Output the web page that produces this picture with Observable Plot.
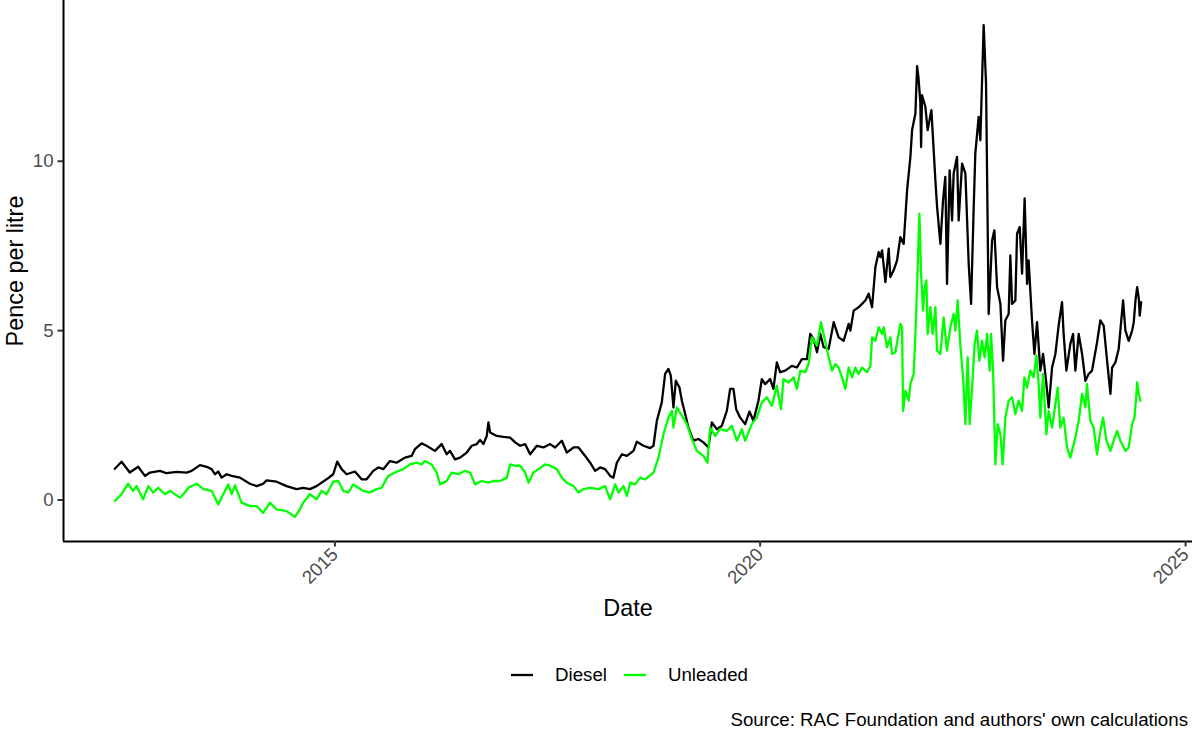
<!DOCTYPE html>
<html><head><meta charset="utf-8">
<script src="https://cdn.jsdelivr.net/npm/d3@7"></script>
<script src="https://cdn.jsdelivr.net/npm/@observablehq/plot@0.6"></script>
<style>
body{margin:0;background:#fff;font-family:"Liberation Sans",Arial,Helvetica,sans-serif;}
#wrap{position:relative;width:1194px;height:733px;overflow:hidden;}
#legend{position:absolute;left:511px;top:663px;height:24px;display:flex;align-items:center;font-size:18.7px;color:#000;white-space:nowrap;}
#legend .item{display:flex;align-items:center;}
#legend .item + .item{margin-left:17px;}
#legend svg{display:block;}
#legend span{margin-left:22px;}
#caption{position:absolute;right:6px;top:709px;font-size:18.7px;color:#000;white-space:nowrap;}
</style></head>
<body><div id="wrap"><div id="chart"></div>
<div id="legend"></div>
<div id="caption"></div></div>
<script>
// ---- data (decimal year, pence per litre) ----
const seriesNames = ["Diesel", "Unleaded"];
const seriesColors = ["#000000", "#00ff00"];
const xTickYears = [2015, 2020, 2025];
const yTicks = [0, 5, 10];
const xTitle = "Date";
const yTitle = "Pence per litre";
const captionText = "Source: RAC Foundation and authors' own calculations";

const diesel = [[2012.412,0.92],[2012.491,1.13],[2012.588,0.81],[2012.686,0.98],[2012.765,0.71],[2012.824,0.81],[2012.941,0.86],[2013.020,0.79],[2013.138,0.83],[2013.255,0.81],[2013.314,0.86],[2013.412,1.03],[2013.491,0.98],[2013.549,0.91],[2013.588,0.76],[2013.627,0.84],[2013.667,0.66],[2013.726,0.76],[2013.785,0.71],[2013.882,0.66],[2014.000,0.48],[2014.079,0.41],[2014.156,0.48],[2014.196,0.58],[2014.314,0.54],[2014.431,0.41],[2014.549,0.32],[2014.627,0.36],[2014.706,0.32],[2014.784,0.41],[2014.902,0.61],[2014.980,0.76],[2015.027,1.13],[2015.079,0.91],[2015.138,0.76],[2015.235,0.84],[2015.314,0.61],[2015.373,0.61],[2015.451,0.86],[2015.510,0.96],[2015.569,0.91],[2015.647,1.15],[2015.725,1.10],[2015.824,1.25],[2015.902,1.30],[2015.941,1.50],[2016.020,1.67],[2016.078,1.60],[2016.176,1.45],[2016.255,1.65],[2016.314,1.35],[2016.353,1.45],[2016.412,1.20],[2016.471,1.25],[2016.549,1.40],[2016.608,1.60],[2016.667,1.65],[2016.706,1.77],[2016.745,1.65],[2016.784,1.89],[2016.804,2.29],[2016.824,1.99],[2016.902,1.89],[2016.980,1.86],[2017.059,1.84],[2017.118,1.70],[2017.176,1.60],[2017.235,1.65],[2017.294,1.35],[2017.373,1.60],[2017.451,1.55],[2017.529,1.65],[2017.588,1.55],[2017.667,1.75],[2017.725,1.40],[2017.804,1.55],[2017.863,1.55],[2017.941,1.30],[2018.000,1.10],[2018.059,0.86],[2018.118,0.96],[2018.176,0.91],[2018.235,0.71],[2018.274,0.66],[2018.314,1.10],[2018.373,1.35],[2018.432,1.30],[2018.510,1.45],[2018.549,1.72],[2018.627,1.60],[2018.706,1.53],[2018.745,1.60],[2018.785,2.34],[2018.843,2.88],[2018.882,3.72],[2018.921,3.87],[2018.949,3.67],[2018.980,2.73],[2019.008,3.52],[2019.051,3.32],[2019.079,2.93],[2019.118,2.54],[2019.156,2.14],[2019.215,1.75],[2019.274,1.80],[2019.333,1.70],[2019.392,1.55],[2019.432,2.29],[2019.490,2.09],[2019.549,2.19],[2019.608,2.63],[2019.647,3.28],[2019.686,3.28],[2019.718,2.68],[2019.765,2.43],[2019.824,2.24],[2019.874,2.61],[2019.921,2.34],[2019.980,2.93],[2020.020,3.57],[2020.059,3.42],[2020.118,3.57],[2020.156,3.28],[2020.196,4.06],[2020.235,3.77],[2020.294,3.82],[2020.373,3.96],[2020.432,3.91],[2020.490,4.16],[2020.549,4.16],[2020.588,4.90],[2020.627,4.75],[2020.667,4.36],[2020.706,4.90],[2020.745,4.51],[2020.804,4.46],[2020.863,5.25],[2020.921,4.80],[2020.980,4.70],[2021.039,5.20],[2021.059,5.00],[2021.098,5.59],[2021.156,5.69],[2021.196,5.79],[2021.235,5.89],[2021.274,6.09],[2021.314,5.69],[2021.353,6.87],[2021.392,7.32],[2021.412,7.17],[2021.432,7.37],[2021.471,6.43],[2021.510,7.42],[2021.529,6.58],[2021.568,6.78],[2021.608,7.07],[2021.647,7.76],[2021.686,7.56],[2021.726,9.14],[2021.765,10.13],[2021.785,10.92],[2021.824,11.41],[2021.844,12.81],[2021.859,12.50],[2021.882,11.75],[2021.891,10.42],[2021.902,11.95],[2021.941,11.61],[2021.968,10.92],[2022.012,11.51],[2022.039,10.33],[2022.059,9.44],[2022.079,8.65],[2022.118,7.56],[2022.149,8.85],[2022.176,9.54],[2022.196,6.38],[2022.227,9.73],[2022.255,8.25],[2022.274,9.64],[2022.314,10.13],[2022.333,8.25],[2022.373,9.93],[2022.412,9.64],[2022.451,6.97],[2022.479,5.79],[2022.510,8.65],[2022.529,10.23],[2022.568,11.31],[2022.588,10.62],[2022.627,14.02],[2022.655,12.30],[2022.686,5.49],[2022.726,7.66],[2022.753,7.96],[2022.785,6.28],[2022.824,5.79],[2022.855,4.11],[2022.882,5.30],[2022.921,5.49],[2022.941,7.22],[2022.961,5.79],[2023.000,5.89],[2023.020,7.86],[2023.051,8.06],[2023.079,6.68],[2023.109,8.90],[2023.138,6.38],[2023.156,7.07],[2023.196,5.30],[2023.224,4.31],[2023.255,5.25],[2023.294,3.82],[2023.326,4.31],[2023.365,3.42],[2023.392,2.73],[2023.432,3.91],[2023.471,4.31],[2023.509,5.15],[2023.549,5.84],[2023.568,4.90],[2023.600,3.82],[2023.647,4.61],[2023.679,4.90],[2023.706,3.82],[2023.745,4.90],[2023.785,4.31],[2023.824,3.52],[2023.862,3.72],[2023.902,3.82],[2023.961,4.65],[2024.000,5.30],[2024.039,5.15],[2024.079,4.11],[2024.118,3.13],[2024.138,3.91],[2024.176,4.06],[2024.215,4.46],[2024.267,5.89],[2024.294,5.00],[2024.333,4.70],[2024.373,5.00],[2024.392,5.25],[2024.412,5.89],[2024.432,6.28],[2024.451,5.94],[2024.462,5.44],[2024.479,5.84]];

const unleaded = [[2012.412,-0.03],[2012.491,0.17],[2012.568,0.48],[2012.627,0.27],[2012.667,0.41],[2012.745,0.02],[2012.804,0.41],[2012.862,0.22],[2012.921,0.36],[2013.000,0.17],[2013.059,0.27],[2013.176,0.07],[2013.235,0.22],[2013.274,0.36],[2013.373,0.48],[2013.451,0.32],[2013.549,0.27],[2013.627,-0.13],[2013.686,0.17],[2013.745,0.46],[2013.785,0.17],[2013.824,0.43],[2013.902,-0.08],[2014.000,-0.18],[2014.079,-0.18],[2014.156,-0.38],[2014.235,-0.08],[2014.314,-0.28],[2014.431,-0.33],[2014.529,-0.50],[2014.588,-0.28],[2014.627,-0.08],[2014.706,0.17],[2014.784,0.02],[2014.843,0.27],[2014.902,0.17],[2014.980,0.54],[2015.039,0.56],[2015.098,0.27],[2015.157,0.22],[2015.216,0.46],[2015.275,0.36],[2015.333,0.27],[2015.412,0.22],[2015.490,0.32],[2015.549,0.36],[2015.627,0.71],[2015.706,0.81],[2015.804,0.91],[2015.882,1.05],[2015.961,1.10],[2016.020,1.05],[2016.059,1.15],[2016.137,1.05],[2016.196,0.81],[2016.235,0.46],[2016.314,0.56],[2016.373,0.81],[2016.451,0.76],[2016.529,0.86],[2016.588,0.81],[2016.647,0.46],[2016.725,0.56],[2016.804,0.51],[2016.863,0.56],[2016.941,0.56],[2017.020,0.66],[2017.059,1.05],[2017.118,1.01],[2017.176,1.01],[2017.235,0.81],[2017.274,0.51],[2017.333,0.81],[2017.392,0.91],[2017.471,1.05],[2017.529,1.01],[2017.608,0.91],[2017.667,0.66],[2017.725,0.51],[2017.804,0.41],[2017.863,0.22],[2017.922,0.32],[2018.000,0.36],[2018.098,0.32],[2018.176,0.41],[2018.235,0.02],[2018.294,0.46],[2018.333,0.22],[2018.392,0.41],[2018.432,0.12],[2018.471,0.51],[2018.529,0.46],[2018.588,0.66],[2018.647,0.61],[2018.745,0.81],[2018.804,1.25],[2018.863,1.94],[2018.921,2.43],[2018.961,2.63],[2018.980,2.14],[2019.020,2.73],[2019.079,2.49],[2019.138,2.24],[2019.196,1.80],[2019.255,1.45],[2019.333,1.30],[2019.380,1.10],[2019.412,2.14],[2019.471,1.89],[2019.529,2.09],[2019.608,2.04],[2019.667,2.19],[2019.726,1.75],[2019.785,2.09],[2019.824,1.75],[2019.902,2.24],[2019.961,2.43],[2020.020,2.88],[2020.079,3.03],[2020.138,2.78],[2020.196,3.37],[2020.244,2.68],[2020.274,3.57],[2020.333,3.47],[2020.392,3.62],[2020.432,3.28],[2020.471,3.82],[2020.529,3.77],[2020.568,4.01],[2020.608,4.80],[2020.667,4.56],[2020.714,5.25],[2020.745,4.90],[2020.804,4.21],[2020.843,3.82],[2020.882,4.01],[2020.921,3.91],[2020.961,3.62],[2021.000,3.28],[2021.039,3.91],[2021.079,3.62],[2021.118,3.91],[2021.156,3.72],[2021.196,3.91],[2021.255,3.77],[2021.294,3.96],[2021.314,4.80],[2021.353,4.70],[2021.392,5.10],[2021.432,4.90],[2021.451,5.10],[2021.490,4.51],[2021.529,4.80],[2021.549,4.31],[2021.588,4.36],[2021.647,5.20],[2021.667,5.10],[2021.679,2.63],[2021.706,3.22],[2021.745,2.93],[2021.765,3.42],[2021.804,3.72],[2021.824,4.90],[2021.851,6.87],[2021.871,8.45],[2021.891,6.68],[2021.914,5.59],[2021.933,6.28],[2021.953,6.48],[2021.968,4.90],[2022.000,5.69],[2022.027,4.90],[2022.059,5.69],[2022.079,4.41],[2022.118,4.31],[2022.156,5.39],[2022.196,4.41],[2022.235,5.10],[2022.274,5.49],[2022.294,5.00],[2022.321,5.89],[2022.353,4.56],[2022.385,3.62],[2022.412,2.24],[2022.439,4.21],[2022.462,2.24],[2022.491,3.32],[2022.521,4.61],[2022.549,5.00],[2022.576,4.11],[2022.608,4.70],[2022.639,4.21],[2022.667,4.90],[2022.698,3.82],[2022.714,4.90],[2022.738,3.82],[2022.765,1.05],[2022.792,2.24],[2022.824,1.94],[2022.851,1.05],[2022.882,2.43],[2022.921,2.93],[2022.961,3.03],[2023.000,2.54],[2023.039,2.93],[2023.079,2.63],[2023.106,3.62],[2023.138,3.32],[2023.176,3.82],[2023.215,3.62],[2023.247,4.26],[2023.274,3.42],[2023.294,2.43],[2023.326,3.72],[2023.365,1.94],[2023.392,2.63],[2023.432,2.14],[2023.471,2.83],[2023.498,3.32],[2023.529,2.14],[2023.568,2.43],[2023.608,1.55],[2023.647,1.25],[2023.706,1.84],[2023.745,2.34],[2023.785,3.13],[2023.824,2.73],[2023.843,3.42],[2023.882,2.34],[2023.921,2.14],[2023.961,1.35],[2024.000,2.04],[2024.032,2.43],[2024.071,1.75],[2024.118,1.45],[2024.156,1.75],[2024.196,2.04],[2024.235,1.75],[2024.294,1.45],[2024.333,1.55],[2024.373,2.24],[2024.400,2.43],[2024.420,3.03],[2024.432,3.47],[2024.451,3.13],[2024.471,2.93]];

// ---- build table ----
function yearToDate(y) {
  const yr = Math.floor(y);
  const a = Date.UTC(yr, 0, 1), b = Date.UTC(yr + 1, 0, 1);
  return new Date(a + (y - yr) * (b - a));
}
const rows = [];
[diesel, unleaded].forEach((s, i) => s.forEach(([t, v]) => rows.push({date: yearToDate(t), value: v, series: seriesNames[i]})));

// ggplot-style 5% expansion
function expand([a, b]) { const d = (b - a) * 0.05; return [a - d, b + d]; }
const xExt = expand(d3.extent(rows, d => +d.date)).map(t => new Date(t));
const yExt = expand(d3.extent(rows, d => d.value));
const xTickDates = xTickYears.map(y => new Date(Date.UTC(y, 0, 1)));

const FS = 18.7;
const TS = 23.4;
const chart = Plot.plot({
  width: 1194, height: 630,
  marginLeft: 63, marginRight: 2, marginTop: 0, marginBottom: 89,
  style: {fontFamily: '"Liberation Sans", Arial, Helvetica, sans-serif', background: "white", overflow: "visible"},
  x: {type: "utc", domain: xExt},
  y: {domain: yExt},
  color: {domain: seriesNames, range: seriesColors},
  marks: [
    Plot.line(rows, {x: "date", y: "value", stroke: "series", strokeWidth: 2.3, strokeLinejoin: "round"}),
    Plot.ruleX([xExt[0]], {stroke: "#000", strokeWidth: 2}),
    Plot.ruleY([yExt[0]], {stroke: "#000", strokeWidth: 2}),
    Plot.axisY({ticks: yTicks, tickSize: 5.5, tickPadding: 4.4, fontSize: FS, fill: "#4d4d4d", stroke: "#333", strokeWidth: 2, label: null}),
    Plot.axisX({ticks: xTickDates, tickSize: 5.5, stroke: "#333", strokeWidth: 2, text: null, label: null}),
    Plot.axisX({ticks: xTickDates, tickFormat: d3.utcFormat("%Y"), tickRotate: -45, tickSize: 0, tickPadding: 9.9, dx: 0, dy: 0, fontSize: FS, fill: "#4d4d4d", label: null}),
    Plot.text([xTitle], {text: d => d, frameAnchor: "bottom", lineAnchor: "middle", textAnchor: "middle", dy: 67, fontSize: TS, fill: "#000"}),
    Plot.text([yTitle], {text: d => d, frameAnchor: "left", lineAnchor: "middle", textAnchor: "middle", dx: -48, rotate: -90, fontSize: TS, fill: "#000"})
  ]
});
document.getElementById("chart").appendChild(chart);

// ---- legend ----
const leg = document.getElementById("legend");
seriesNames.forEach((n, i) => {
  const it = document.createElement("div");
  it.className = "item";
  it.innerHTML = `<svg width="22" height="20"><line x1="0" x2="22" y1="10" y2="10" stroke="${seriesColors[i]}" stroke-width="2.3"/></svg><span>${n}</span>`;
  leg.appendChild(it);
});
document.getElementById("caption").textContent = captionText;
</script></body></html>
